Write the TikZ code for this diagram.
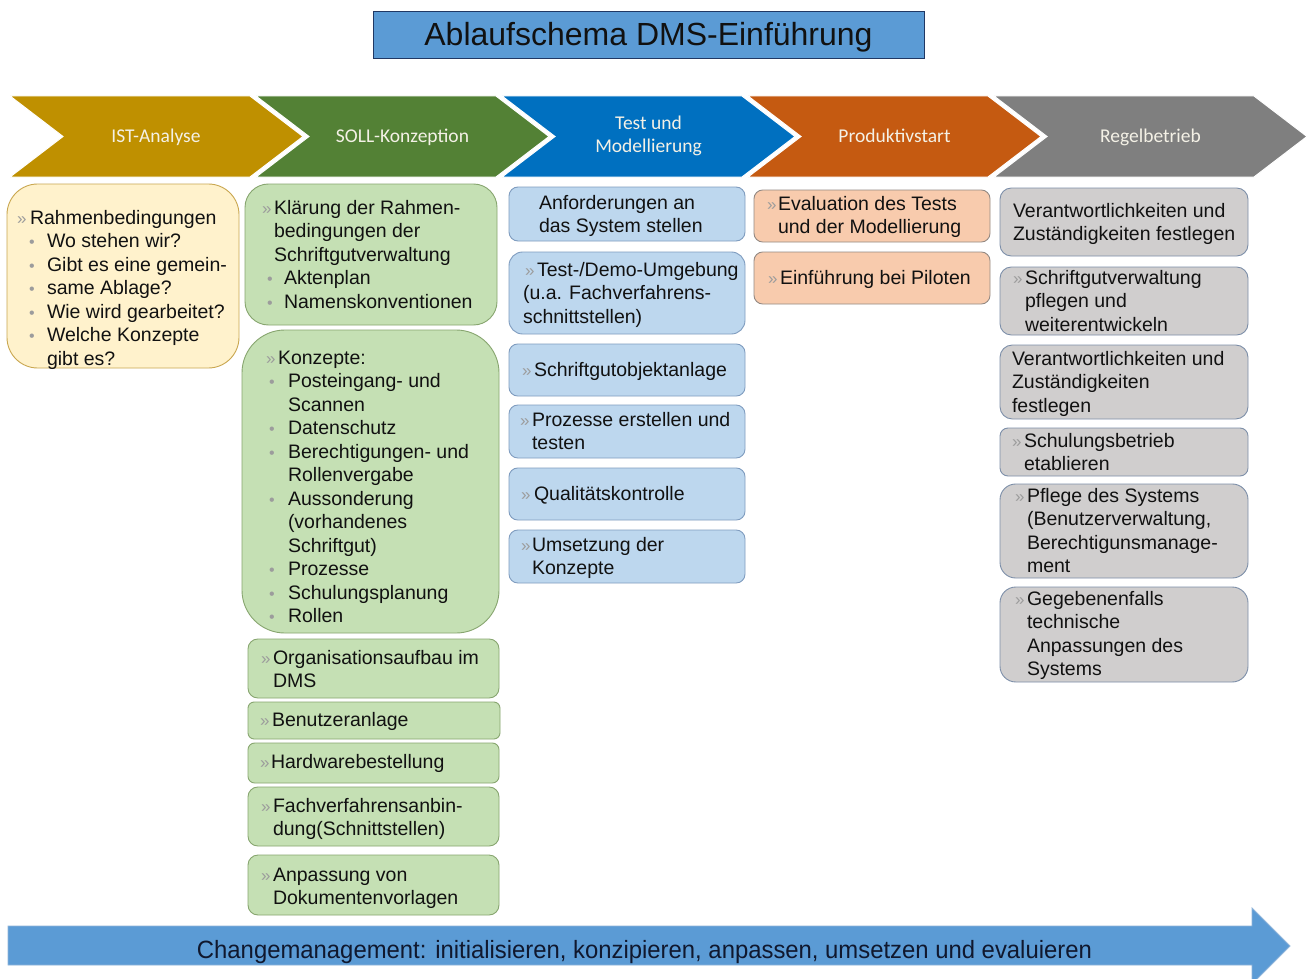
\documentclass[tikz,border=0pt]{standalone}
\usepackage{fontspec}
\usepackage{graphicx}
\setmainfont{Liberation Sans}
\newfontfamily\chevfont{Carlito}

% palette
\definecolor{titlefill}{HTML}{5B9BD5}
\definecolor{titleline}{HTML}{203864}
\definecolor{chevA}{HTML}{BF9000}
\definecolor{chevB}{HTML}{538135}
\definecolor{chevC}{HTML}{0070C0}
\definecolor{chevD}{HTML}{C55A11}
\definecolor{chevE}{HTML}{7F7F7F}
\definecolor{chevtext}{HTML}{F4F1E6}
\definecolor{istfill}{HTML}{FFF2CC}
\definecolor{istline}{HTML}{C9A750}
\definecolor{sollfill}{HTML}{C5E0B4}
\definecolor{sollline}{HTML}{87A56F}
\definecolor{testfill}{HTML}{BDD7EE}
\definecolor{testline}{HTML}{7F9CBF}
\definecolor{prodfill}{HTML}{F8CBAD}
\definecolor{prodline}{HTML}{948A84}
\definecolor{regfill}{HTML}{D0CECE}
\definecolor{regline}{HTML}{7D8FA9}
\definecolor{bulgray}{HTML}{9C9C9C}
\definecolor{textblack}{HTML}{111111}
\definecolor{cmfill}{HTML}{5B9BD5}
\definecolor{cmline}{HTML}{8FB4DA}
\definecolor{cmtext}{HTML}{10182E}

\newcommand\bodyfont{\fontsize{19.5}{23.5}\selectfont}
% bullet helpers: leading space, width of the bullet column
\newcommand\Lb[2]{\hspace*{#1pt}\makebox[#2pt][l]{\textcolor{bulgray}{\fontsize{17}{17}\selectfont »}}}
\newcommand\Ls[2]{\hspace*{#1pt}\makebox[#2pt][l]{\textcolor{bulgray}{\fontsize{16}{16}\selectfont •}}}
\newcommand\In[1]{\hspace*{#1pt}}

% rounded box: name, style, x1, y1, x2, y2
\newcommand\rbox[6]{%
  \pgfmathsetmacro\rbW{#5-#3}%
  \pgfmathsetmacro\rbH{#6-#4}%
  \pgfmathsetmacro\rbR{min(\rbW,\rbH)/6}%
  \node[#2, anchor=north west, minimum width=\rbW pt, minimum height=\rbH pt,
        rounded corners=\rbR pt] (#1) at (#3,#4) {};}
% box text: name, x, first baseline, lines
\newcommand\btext[4]{%
  \node[txt] (#1) at (#2,#3) {\parbox[t]{280pt}{\bodyfont #4}};}
% chevron: left x, right x, colour
\newcommand\chev[3]{%
  \fill[#3, draw=white, line width=1pt] (#1,96) -- (#2,96) -- ({#2+53},136.5)
    -- (#2,177) -- (#1,177) -- ({#1+53},136.5) -- cycle;}

\tikzset{
  boxbase/.style={draw, line width=0.9pt, inner sep=0pt, outer sep=0pt},
  istbox/.style={boxbase, fill=istfill, draw=istline},
  sollbox/.style={boxbase, fill=sollfill, draw=sollline},
  testbox/.style={boxbase, fill=testfill, draw=testline},
  prodbox/.style={boxbase, fill=prodfill, draw=prodline},
  regbox/.style={boxbase, fill=regfill, draw=regline},
  txt/.style={inner sep=0pt, outer sep=0pt, anchor=base west, text=textblack},
  chevlabel/.style={inner sep=0pt, anchor=base, text=chevtext,
    font=\chevfont\fontsize{19.5}{23}\selectfont},
}

\begin{document}
\begin{tikzpicture}[x=1pt,y=-1pt]
\clip (0,0) rectangle (1309,979);
\fill[white] (0,0) rectangle (1309,979);

% title
\node[draw=titleline, fill=titlefill, line width=0.9pt, anchor=north west,
      minimum width=551pt, minimum height=47pt, inner sep=0pt] (title) at (373,11) {};
\node[inner sep=0pt, anchor=base, font=\fontsize{32}{36}\selectfont, text=textblack]
      (titletext) at (648.5,46) {Ablaufschema DMS-Einführung};

% phase chevrons
\chev{10}{250}{chevA}
\chev{256}{496}{chevB}
\chev{502}{742}{chevC}
\chev{748}{988}{chevD}
\chev{994}{1254}{chevE}
\node[chevlabel] (p1) at (156,142.5) {IST-Analyse};
\node[chevlabel] (p2) at (402.5,142.5) {SOLL-Konzeption};
\node[chevlabel] (p3) at (648.5,130) {\parbox[t]{200pt}{\centering\chevfont\fontsize{19.5}{23}\selectfont Test und\\Modellierung}};
\node[chevlabel] (p4) at (894.5,142.5) {Produktivstart};
\node[chevlabel] (p5) at (1150.5,142.5) {Regelbetrieb};

% IST-Analyse
\rbox{a1}{istbox}{7}{184}{239}{368}
\btext{a1t}{17}{224}{\Lb{0}{13}Rahmenbedingungen\\
 \Ls{12}{18}Wo stehen wir?\\
 \Ls{12}{18}Gibt es eine gemein-\\
 \Ls{12}{18}same Ablage?\\
 \Ls{12}{18}Wie wird gearbeitet?\\
 \Ls{12}{18}Welche Konzepte\\
 \In{30}gibt es?}

% SOLL-Konzeption
\rbox{b1}{sollbox}{245}{184}{497}{325}
\btext{b1t}{262}{214}{\Lb{0}{12}Klärung der Rahmen-\\
 \In{12}bedingungen der\\
 \In{12}Schriftgutverwaltung\\
 \Ls{5}{17}Aktenplan\\
 \Ls{5}{17}Namenskonventionen}
\rbox{b2}{sollbox}{242}{330}{499}{633}
\btext{b2t}{266}{364}{\Lb{0}{12}Konzepte:\\
 \Ls{3}{19}Posteingang- und\\
 \In{22}Scannen\\
 \Ls{3}{19}Datenschutz\\
 \Ls{3}{19}Berechtigungen- und\\
 \In{22}Rollenvergabe\\
 \Ls{3}{19}Aussonderung\\
 \In{22}(vorhandenes\\
 \In{22}Schriftgut)\\
 \Ls{3}{19}Prozesse\\
 \Ls{3}{19}Schulungsplanung\\
 \Ls{3}{19}Rollen}
\rbox{b3}{sollbox}{248}{639}{499}{698}
\btext{b3t}{261}{664}{\Lb{0}{12}Organisationsaufbau im\\ \In{12}DMS}
\rbox{b4}{sollbox}{248}{702}{500}{739}
\btext{b4t}{260}{726}{\Lb{0}{12}Benutzeranlage}
\rbox{b5}{sollbox}{248}{743}{499}{783}
\btext{b5t}{260}{768}{\Lb{0}{11}Hardwarebestellung}
\rbox{b6}{sollbox}{248}{787}{499}{846}
\btext{b6t}{261}{812}{\Lb{0}{12}Fachverfahrensanbin-\\ \In{12}dung(Schnittstellen)}
\rbox{b7}{sollbox}{248}{855}{499}{915}
\btext{b7t}{261}{881}{\Lb{0}{12}Anpassung von\\ \In{12}Dokumentenvorlagen}

% Test und Modellierung
\rbox{c1}{testbox}{509}{187}{745}{241}
\btext{c1t}{539}{209}{Anforderungen an\\ das System stellen}
\rbox{c2}{testbox}{509}{252}{745}{334}
\btext{c2t}{523}{276}{\Lb{2}{12}Test-/Demo-Umgebung\\ (u.a. Fachverfahrens-\\ schnittstellen)}
\rbox{c3}{testbox}{509}{344}{745}{396}
\btext{c3t}{522}{376}{\Lb{0}{12}Schriftgutobjektanlage}
\rbox{c4}{testbox}{509}{405}{745}{458}
\btext{c4t}{520}{426}{\Lb{0}{12}Prozesse erstellen und\\ \In{12}testen}
\rbox{c5}{testbox}{509}{468}{745}{520}
\btext{c5t}{521}{500}{\Lb{0}{13}Qualitätskontrolle}
\rbox{c6}{testbox}{509}{530}{745}{583}
\btext{c6t}{521}{551}{\Lb{0}{11}Umsetzung der\\ \In{11}Konzepte}

% Produktivstart
\rbox{d1}{prodbox}{754}{190}{990}{242}
\btext{d1t}{767}{210}{\Lb{0}{11}Evaluation des Tests\\ \In{11}und der Modellierung}
\rbox{d2}{prodbox}{754}{252}{990}{304}
\btext{d2t}{768}{284}{\Lb{0}{12}Einführung bei Piloten}

% Regelbetrieb
\rbox{e1}{regbox}{1000}{188}{1248}{256}
\btext{e1t}{1013}{217}{Verantwortlichkeiten und\\ Zuständigkeiten festlegen}
\rbox{e2}{regbox}{1000}{267}{1248}{335}
\btext{e2t}{1013}{284}{\Lb{0}{12}Schriftgutverwaltung\\ \In{12}pflegen und\\ \In{12}weiterentwickeln}
\rbox{e3}{regbox}{1000}{345}{1248}{419}
\btext{e3t}{1012}{365}{Verantwortlichkeiten und\\ Zuständigkeiten\\ festlegen}
\rbox{e4}{regbox}{1000}{428}{1248}{476}
\btext{e4t}{1012}{447}{\Lb{0}{12}Schulungsbetrieb\\ \In{12}etablieren}
\rbox{e5}{regbox}{1000}{484}{1248}{578}
\btext{e5t}{1015}{502}{\Lb{0}{12}Pflege des Systems\\ \In{12}(Benutzerverwaltung,\\ \In{12}Berechtigunsmanage-\\ \In{12}ment}
\rbox{e6}{regbox}{1000}{587}{1248}{682}
\btext{e6t}{1015}{605}{\Lb{0}{12}Gegebenenfalls\\ \In{12}technische\\ \In{12}Anpassungen des\\ \In{12}Systems}

% change management arrow
\fill[cmfill, draw=cmline, line width=0.8pt] (8,926) -- (1252,926) -- (1252,908)
  -- (1290,946) -- (1252,984) -- (1252,965) -- (8,965) -- cycle;
\node[inner sep=0pt, text=cmtext, font=\fontsize{25}{28}\selectfont] (cm) at (644.5,952)
  {\resizebox{895pt}{\height}{Changemanagement: initialisieren, konzipieren, anpassen, umsetzen und evaluieren}};
\end{tikzpicture}
\end{document}
